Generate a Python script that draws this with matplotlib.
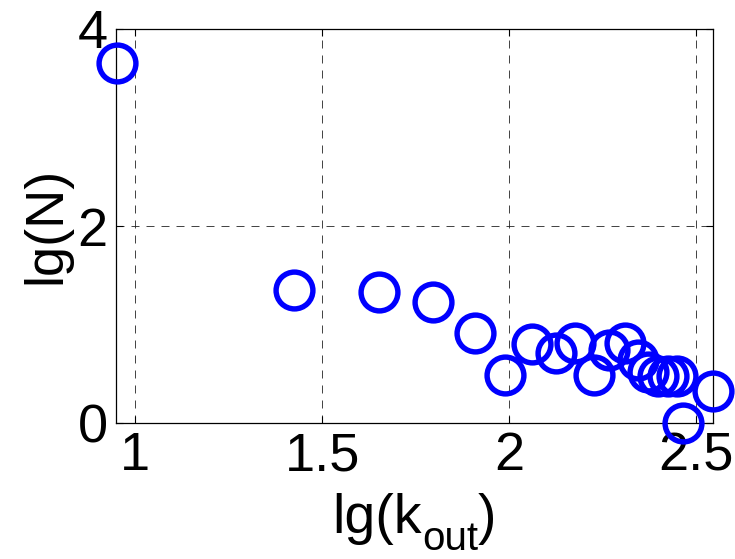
import matplotlib
matplotlib.use("Agg")
import matplotlib.pyplot as plt

plt.rcParams['font.family'] = ['Liberation Sans', 'DejaVu Sans']

lg_kout = [0.952, 1.426, 1.651, 1.796, 1.910, 1.990, 2.062, 2.124, 2.177, 2.227,
           2.266, 2.309, 2.344, 2.371, 2.397, 2.424, 2.450, 2.464, 2.544]
lg_N = [3.65, 1.35, 1.335, 1.23, 0.91, 0.49, 0.80, 0.71, 0.81, 0.49,
        0.74, 0.81, 0.64, 0.52, 0.48, 0.48, 0.48, 0.0, 0.32]
xticks = [1, 1.5, 2, 2.5]
xticklabels = ['1', '1.5', '2', '2.5']
yticks = [0, 2, 4]
yticklabels = ['0', '2', '4']
xlabel_main = 'lg(k'
xlabel_sub = 'out'
xlabel_end = ')'
ylabel = 'lg(N)'

W, H = 735, 559
fig = plt.figure(figsize=(W / 100, H / 100), dpi=100)
ax = fig.add_axes([116 / W, (H - 423) / H, (713 - 116) / W, (423 - 29) / H])
ax.plot(lg_kout, lg_N, linestyle='none', marker='o', markersize=26.5,
        markerfacecolor='none', markeredgecolor='#0000ff', markeredgewidth=3.9,
        clip_on=False, zorder=3)
ax.set_xlim(0.949, 2.545)
ax.set_ylim(0, 4)
ax.set_xticks(xticks)
ax.set_xticklabels(xticklabels)
ax.set_yticks(yticks)
ax.set_yticklabels(yticklabels)
ax.grid(True, linestyle=(0, (9.6, 8.4)), color='#222222', linewidth=0.6)
ax.tick_params(direction='in', length=5, width=0.8, labelsize=39, top=True, right=True)
ax.tick_params(axis='x', pad=6)
ax.tick_params(axis='y', pad=6)
for s in ax.spines.values():
    s.set_linewidth(0.9)

# y label
fig.text(60 / W, (H - 225.5) / H, ylabel, fontsize=39, rotation=90,
         rotation_mode='anchor', ha='center', va='baseline')

# x label built from pieces (main text + subscript)
fig.canvas.draw()
r = fig.canvas.get_renderer()
base_y = (H - 533) / H
sub_y = (H - 550) / H
t1 = fig.text(0, base_y, xlabel_main, fontsize=40, ha='left', va='baseline')
t2 = fig.text(0, sub_y, xlabel_sub, fontsize=29, ha='left', va='baseline')
t3 = fig.text(0, base_y, xlabel_end, fontsize=40, ha='left', va='baseline')
w1 = t1.get_window_extent(r).width
w2 = t2.get_window_extent(r).width
w3 = t3.get_window_extent(r).width
total = w1 + w2 + w3
x0 = 414.5 - total / 2
t1.set_x(x0 / W)
t2.set_x((x0 + w1) / W)
t3.set_x((x0 + w1 + w2) / W)
fig.savefig('out.png', dpi=100)
